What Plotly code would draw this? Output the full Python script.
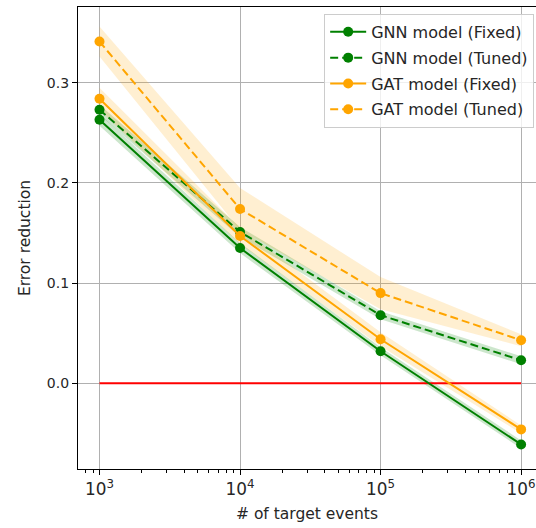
import numpy as np
import plotly.graph_objects as go

events = [1e3, 1e4, 1e5, 1e6]

gnn_fixed = [0.263, 0.135, 0.032, -0.061]
gnn_fixed_err = [0.006, 0.005, 0.004, 0.004]
gnn_tuned = [0.273, 0.151, 0.068, 0.023]
gnn_tuned_err = [0.005, 0.005, 0.004, 0.004]
gat_fixed = [0.284, 0.147, 0.044, -0.046]
gat_fixed_err = [0.011, 0.008, 0.007, 0.004]
gat_tuned = [0.341, 0.174, 0.090, 0.043]
gat_tuned_err = [0.015, 0.021, 0.016, 0.006]

series = [
    ("GNN model (Fixed)", gnn_fixed, gnn_fixed_err, "green", "rgba(0,128,0,0.2)", "solid"),
    ("GNN model (Tuned)", gnn_tuned, gnn_tuned_err, "green", "rgba(0,128,0,0.2)", "8px,4px"),
    ("GAT model (Fixed)", gat_fixed, gat_fixed_err, "orange", "rgba(255,165,0,0.18)", "solid"),
    ("GAT model (Tuned)", gat_tuned, gat_tuned_err, "orange", "rgba(255,165,0,0.18)", "8px,4px"),
]

font = "DejaVu Sans"
fig = go.Figure()

for name, y, e, col, fcol, dash in series:
    y = np.array(y)
    e = np.array(e)
    upper = y + e
    lower = y - e
    fig.add_trace(go.Scatter(
        x=events + events[::-1],
        y=list(upper) + list(lower[::-1]),
        fill="toself", fillcolor=fcol, line=dict(width=0),
        mode="lines", showlegend=False, hoverinfo="skip"))

# zero reference line
fig.add_trace(go.Scatter(x=[events[0], events[-1]], y=[0, 0], mode="lines",
                         line=dict(color="red", width=2), showlegend=False))

for i, (name, y, e, col, fcol, dash) in enumerate(series):
    fig.add_trace(go.Scatter(
        x=events, y=y, name=name, mode="lines+markers", legendgroup=f"g{i}",
        line=dict(color=col, width=2, dash=dash),
        marker=dict(color=col, size=10)))

fig.update_layout(
    width=536, height=528,
    margin=dict(l=78, r=0, t=7, b=59),
    paper_bgcolor="white", plot_bgcolor="white",
    font=dict(family=font, size=14, color="#262626"),
    legend=dict(
        x=0.996, y=0.985, xanchor="right", yanchor="top",
        bgcolor="rgba(255,255,255,0.8)", bordercolor="#cccccc", borderwidth=1,
        font=dict(size=16), tracegroupgap=2, itemwidth=36,
    ),
)
fig.update_xaxes(
    type="log", range=[2.847, 6.106], dtick=1,
    exponentformat="power", showexponent="all", ticklabeloverflow="allow",
    tickfont=dict(size=13.5),
    showgrid=True, gridcolor="#b0b0b0", gridwidth=1,
    showline=True, linecolor="black", linewidth=1.3, mirror=True,
    ticks="outside", ticklen=5, tickcolor="black", tickwidth=1,
    minor=dict(ticks="outside", ticklen=3, tickcolor="black", showgrid=False),
    zeroline=False,
    title=dict(text="# of target events", font=dict(size=15.5), standoff=10),
)
fig.update_yaxes(
    range=[-0.0855, 0.3755], tickvals=[0.0, 0.1, 0.2, 0.3], tickformat=".1f",
    showgrid=True, gridcolor="#b0b0b0", gridwidth=1,
    showline=True, linecolor="black", linewidth=1.3, mirror=False,
    ticks="outside", ticklen=5, tickcolor="black", tickwidth=1,
    zeroline=False,
    title=dict(text="Error reduction", font=dict(size=15.5), standoff=12),
)

fig.write_html("out.html")
